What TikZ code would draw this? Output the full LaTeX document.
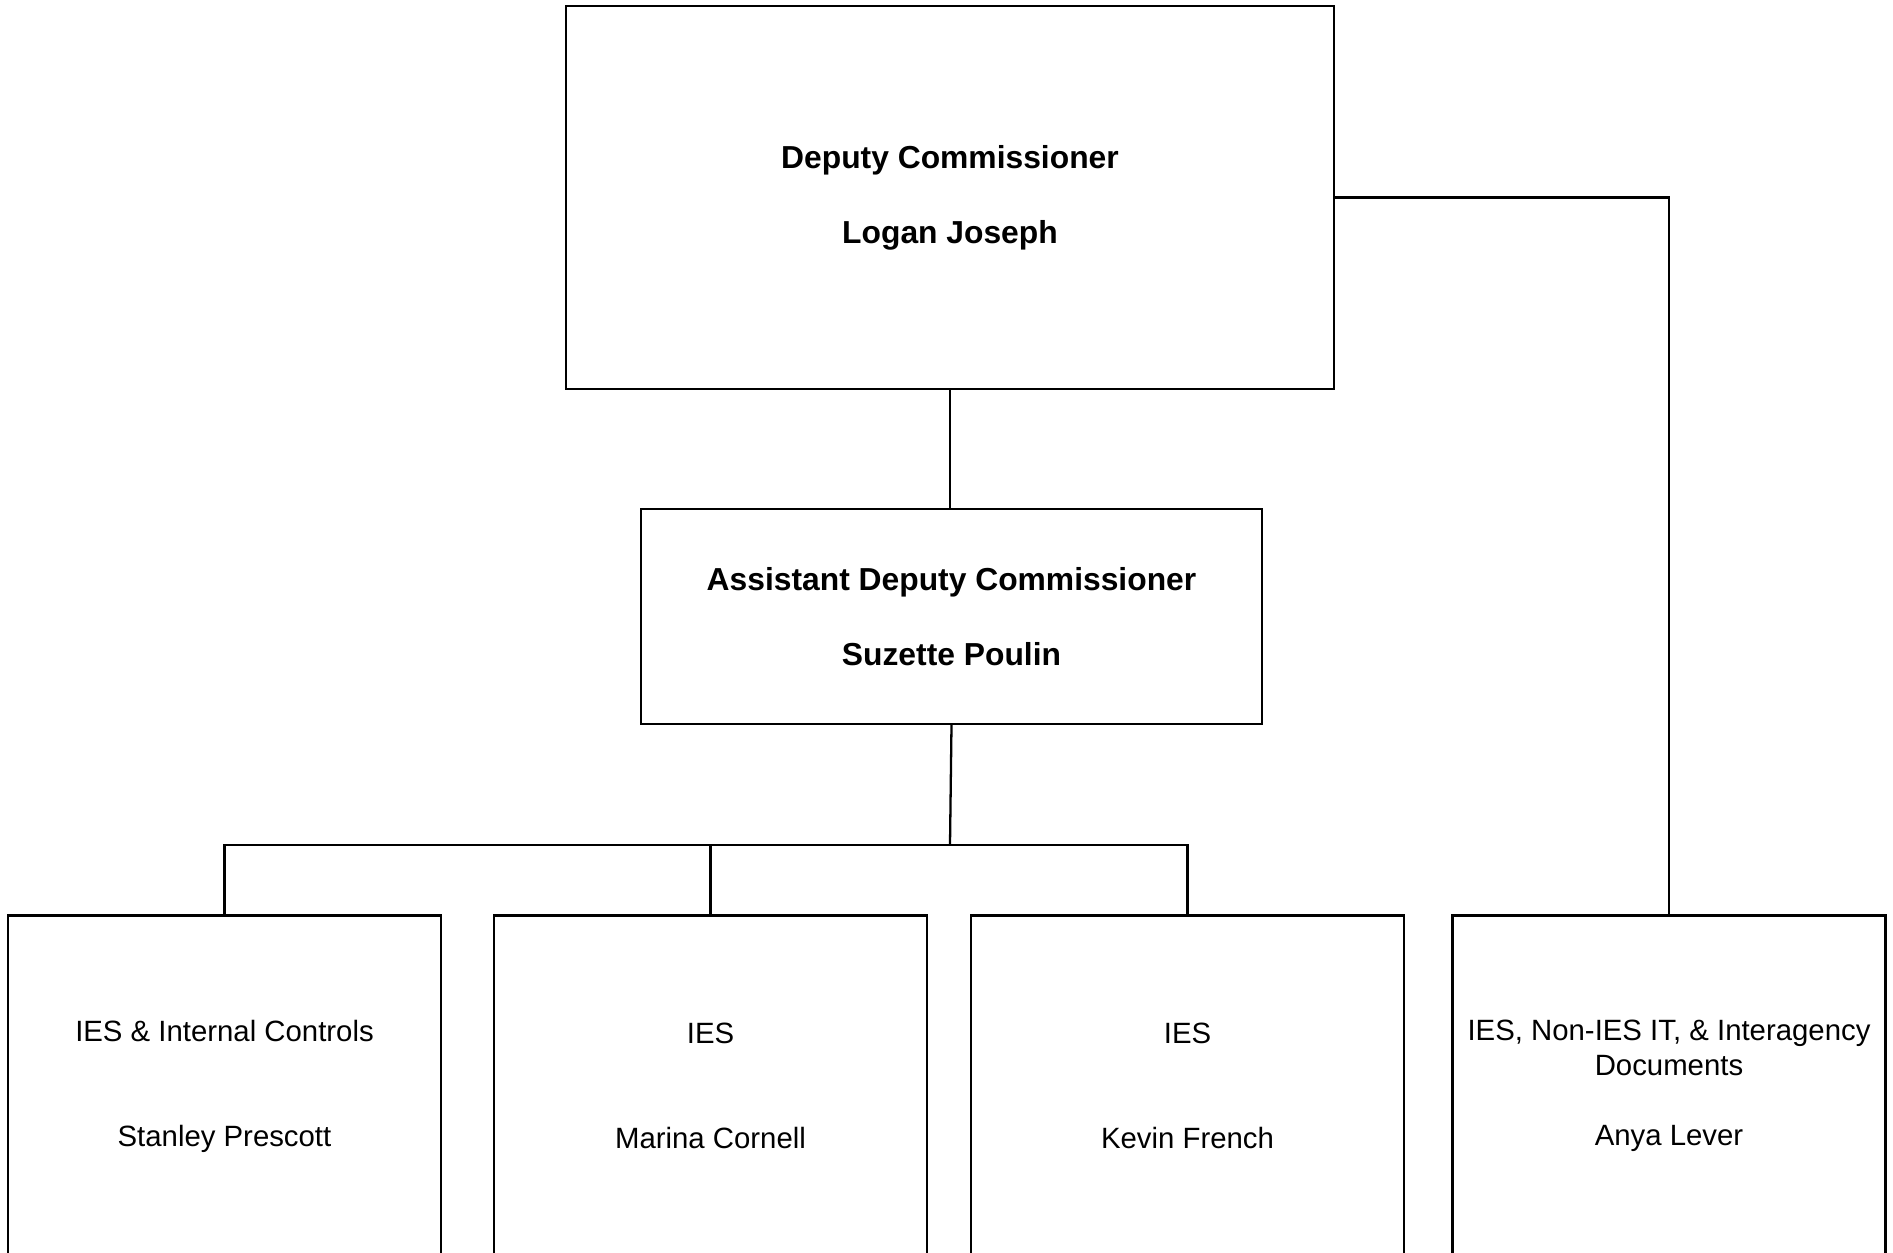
\documentclass[tikz,border=0pt]{standalone}
\usepackage{fontspec}
\setmainfont{Liberation Sans}
\usepackage{tikz}
\usetikzlibrary{positioning}

\begin{document}
\begin{tikzpicture}[line width=1.3pt,
  headbox/.style={rectangle,draw=black,align=center,inner sep=0pt,
    font=\fontsize{18.1}{42.7}\selectfont\bfseries},
  unitbox/.style={rectangle,draw=black,align=center,inner sep=0pt,
    minimum width=8.66cm,minimum height=6.82cm,
    font=\fontsize{16.7}{19.9}\selectfont}]
\clip (0,0) rectangle (37.86,-25.06);
\node (dc) at (19.0,-3.95) [headbox,minimum width=15.36cm,minimum height=7.66cm]{Deputy Commissioner\\Logan Joseph};
\node (adc) at (19.03,-12.33) [headbox,minimum width=12.42cm,minimum height=4.3cm]{Assistant Deputy Commissioner\\Suzette Poulin};
\node (ies1) at (4.49,-21.72) [unitbox]{IES \& Internal Controls\\[1.4cm]Stanley Prescott};
\node (ies2) at (14.21,-21.72) [unitbox]{IES\\[1.4cm]Marina Cornell};
\node (ies3) at (23.75,-21.72) [unitbox]{IES\\[1.4cm]Kevin French};
\node (ies4) at (33.38,-21.72) [unitbox]{IES, Non-IES IT, \& Interagency\\Documents\\[0.7cm]Anya Lever};
\coordinate (bus) at (19.0,-16.9);
\draw (dc.south) -- (dc.south |- adc.north);
\draw (dc.east) -| (ies4.north);
\draw (adc.south) -- (bus);
\draw (ies1.north) |- (bus) -| (ies3.north);
\draw (ies2.north) -- (ies2.north |- bus);
\end{tikzpicture}
\end{document}
